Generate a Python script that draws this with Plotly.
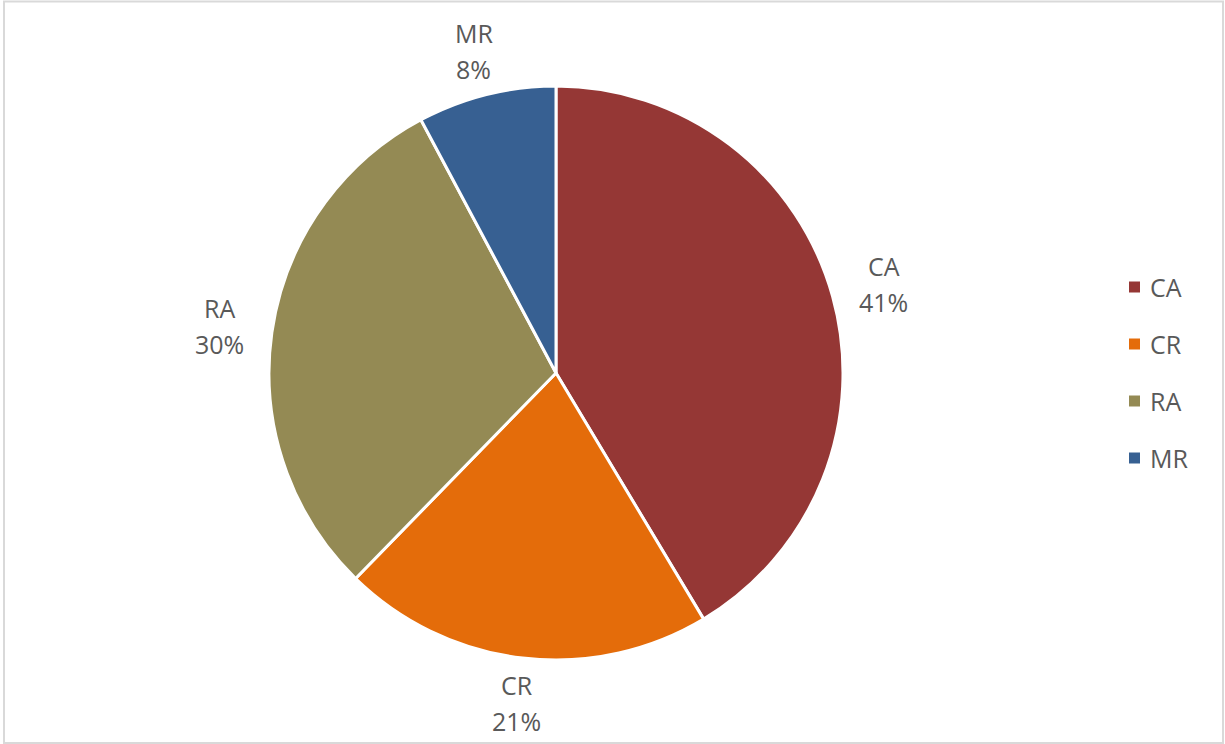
import math
import plotly.graph_objects as go

# Share of each category (percent)
categories = ["CA", "CR", "RA", "MR"]
values = [41.4, 20.9, 29.9, 7.8]
colors = ["#953735", "#E46C0A", "#948A54", "#376092"]

W, H = 1225, 744
CX, CY, R = 556, 373, 287        # pie centre and radius in pixels
LABEL_RX, LABEL_RY = 340, 332    # label offsets from centre (horizontal, vertical)
LINE_GAP = 18                    # half spacing between the two label lines
FONT = "Open Sans"
TEXT_COLOR = "#595959"
FONT_SIZE = 25

fig = go.Figure(
    go.Pie(
        labels=categories,
        values=values,
        sort=False,
        direction="clockwise",
        rotation=0,
        marker=dict(colors=colors, line=dict(color="white", width=3)),
        textinfo="none",
        hoverinfo="label+percent",
        showlegend=False,
        domain=dict(x=[(CX - R) / W, (CX + R) / W],
                    y=[1 - (CY + R) / H, 1 - (CY - R) / H]),
    )
)

# Data labels placed around the pie at each slice's mid-angle
total = sum(values)
cum = 0
annotations = []
for cat, v in zip(categories, values):
    mid = (cum + v / 2) / total * 2 * math.pi
    cum += v
    px = CX + LABEL_RX * math.sin(mid)
    py = CY - LABEL_RY * math.cos(mid)
    for txt, dy in ((cat, -LINE_GAP), (f"{round(v / total * 100)}%", LINE_GAP)):
        annotations.append(dict(
            x=px / W, y=1 - (py + dy) / H, xref="paper", yref="paper",
            text=txt, showarrow=False, xanchor="center", yanchor="middle",
            font=dict(family=FONT, size=FONT_SIZE, color=TEXT_COLOR),
        ))

# Legend drawn as square swatches with labels
shapes = []
LEG_X, LEG_Y0, LEG_STEP, SW = 1129, 287, 57, 11
for i, (cat, col) in enumerate(zip(categories, colors)):
    yc = LEG_Y0 + i * LEG_STEP
    shapes.append(dict(
        type="rect", xref="paper", yref="paper",
        x0=LEG_X / W, x1=(LEG_X + SW) / W,
        y0=1 - (yc + SW / 2) / H, y1=1 - (yc - SW / 2) / H,
        fillcolor=col, line=dict(width=0),
    ))
    annotations.append(dict(
        x=(LEG_X + SW + 8) / W, y=1 - yc / H, xref="paper", yref="paper",
        text=cat, showarrow=False, xanchor="left", yanchor="middle",
        font=dict(family=FONT, size=FONT_SIZE, color=TEXT_COLOR),
    ))

# Chart area border
shapes.append(dict(
    type="rect", xref="paper", yref="paper",
    x0=4 / W, x1=1223 / W, y0=1 - 743 / H, y1=1 - 1.5 / H,
    line=dict(color="#D9D9D9", width=2), fillcolor="rgba(0,0,0,0)",
))

fig.update_layout(
    width=W, height=H,
    margin=dict(l=0, r=0, t=0, b=0),
    paper_bgcolor="white",
    plot_bgcolor="white",
    annotations=annotations,
    shapes=shapes,
)

fig.write_html("out.html")
